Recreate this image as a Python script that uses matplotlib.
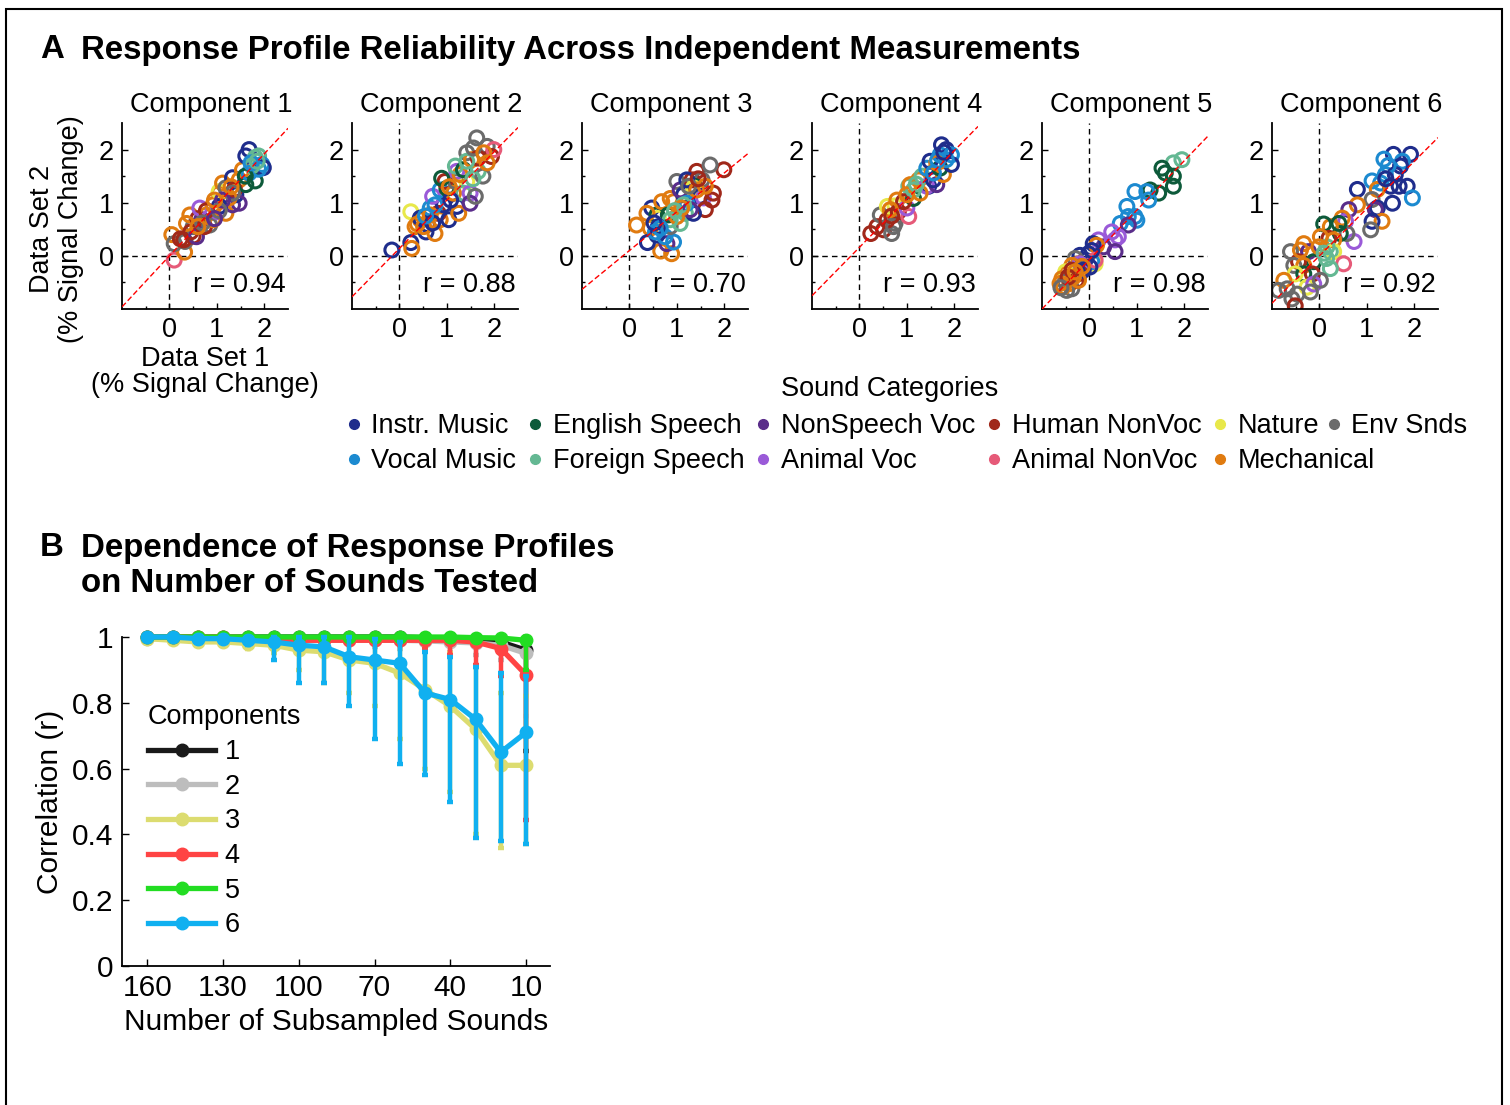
import matplotlib
matplotlib.use("Agg")
import matplotlib.pyplot as plt
from matplotlib.lines import Line2D
from matplotlib.patches import Rectangle
import numpy as np

plt.rcParams['font.family'] = ['Liberation Sans', 'DejaVu Sans']

W, H = 1510, 1105

# sound categories
cat_names = ['Instr. Music', 'Vocal Music', 'English Speech', 'Foreign Speech',
             'NonSpeech Voc', 'Animal Voc', 'Human NonVoc', 'Animal NonVoc',
             'Nature', 'Mechanical', 'Env Snds']
cat_colors = ['#1f2d8c', '#1c8ad0', '#0d5a3a', '#64b893', '#5a2d8a', '#9a5ad8',
              '#a0281a', '#e65a78', '#e8e84a', '#e07b10', '#6b6b6b']

# (category, data set 1, data set 2)
comp1_pts = [(7, 0.1, -0.08), (9, 0.05, 0.4), (9, 0.32, 0.07), (10, 0.1, 0.23), (10, 0.33, 0.27),
             (6, 0.3, 0.3), (6, 0.5, 0.37), (10, 0.5, 0.55), (9, 0.43, 0.77), (4, 0.57, 0.36),
             (4, 0.68, 0.68), (6, 0.6, 0.7), (9, 0.78, 0.77), (10, 0.85, 0.58), (5, 0.64, 0.9),
             (5, 1.02, 0.83), (9, 0.92, 0.96), (9, 1.19, 0.8), (6, 0.74, 0.55), (9, 1.05, 1.18),
             (8, 1.05, 1.21), (9, 1.12, 1.37), (10, 1.19, 1.28), (4, 1.33, 0.96), (0, 1.4, 1.15),
             (0, 1.33, 1.47), (9, 1.47, 1.43), (6, 1.37, 1.25), (2, 1.61, 1.34), (9, 1.54, 1.62),
             (1, 1.68, 1.56), (0, 1.61, 1.88), (0, 1.68, 2.0), (3, 1.81, 1.85), (3, 1.88, 1.88),
             (2, 1.81, 1.41), (1, 1.95, 1.72), (0, 1.98, 1.66), (3, 1.74, 1.69), (4, 1.47, 0.99),
             (9, 1.26, 1.09), (0, 1.05, 0.93), (10, 1.33, 1.18), (1, 1.88, 1.63), (9, 0.92, 0.68),
             (4, 1.12, 1.05), (6, 0.78, 0.85), (10, 1.05, 0.85), (9, 0.36, 0.61), (6, 0.23, 0.32),
             (2, 1.6, 1.5), (9, 0.95, 1.05), (6, 0.45, 0.45), (9, 1.3, 1.3), (10, 0.7, 0.62),
             (4, 0.95, 0.7), (9, 0.6, 0.55), (1, 1.72, 1.75), (3, 1.85, 1.78)]
comp2_pts = [(0, -0.16, 0.11), (0, 0.24, 0.25), (9, 0.26, 0.14), (8, 0.24, 0.83), (9, 0.33, 0.55),
             (9, 0.44, 0.68), (0, 0.44, 0.71), (0, 0.59, 0.59), (0, 0.56, 0.45), (1, 0.65, 0.9),
             (9, 0.75, 0.42), (9, 0.86, 0.68), (6, 0.82, 0.8), (0, 0.93, 0.96), (0, 1.04, 0.68),
             (0, 1.21, 0.93), (9, 1.25, 0.8), (5, 0.7, 1.12), (1, 0.86, 1.24), (2, 1.0, 1.27),
             (6, 0.96, 1.4), (9, 1.14, 1.18), (10, 1.18, 1.4), (8, 1.42, 1.4), (3, 1.35, 1.18),
             (5, 1.49, 1.18), (4, 1.49, 0.99), (10, 1.6, 1.12), (5, 1.21, 1.59), (9, 1.28, 1.53),
             (3, 1.18, 1.69), (2, 1.35, 1.62), (3, 1.66, 1.59), (10, 1.76, 1.5), (10, 1.42, 1.94),
             (9, 1.52, 1.81), (10, 1.63, 2.22), (10, 1.85, 2.06), (6, 1.66, 1.84), (6, 1.94, 1.87),
             (7, 1.99, 2.0), (9, 1.85, 1.75), (3, 1.42, 1.78), (10, 1.56, 2.03), (9, 0.65, 0.77),
             (1, 0.75, 0.96), (9, 0.51, 0.55), (0, 1.08, 1.05), (2, 0.89, 1.46), (9, 1.78, 1.94),
             (9, 0.38, 0.6), (0, 0.7, 0.62), (1, 0.55, 0.75), (9, 1.05, 1.3), (3, 1.55, 1.45)]
comp3_pts = [(9, 0.89, 0.04), (9, 0.66, 0.09), (9, 0.15, 0.58), (9, 0.44, 0.52), (0, 0.38, 0.25),
             (4, 0.79, 0.23), (0, 0.47, 0.9), (0, 0.58, 0.39), (1, 0.75, 0.36), (1, 0.93, 0.26),
             (8, 0.61, 0.71), (2, 0.58, 0.77), (9, 0.68, 1.02), (10, 0.86, 0.55), (2, 0.82, 0.77),
             (9, 0.86, 1.08), (3, 1.07, 0.61), (9, 0.93, 1.02), (3, 1.18, 0.8), (9, 1.0, 0.74),
             (10, 1.0, 1.4), (0, 1.14, 1.15), (4, 1.07, 1.24), (6, 1.32, 1.43), (6, 1.42, 1.59),
             (10, 1.53, 1.43), (2, 1.37, 1.31), (8, 1.35, 1.28), (0, 1.49, 1.12), (5, 1.56, 1.09),
             (6, 1.6, 0.87), (6, 1.77, 1.18), (6, 1.74, 1.05), (6, 1.99, 1.62), (10, 1.7, 1.71),
             (9, 1.6, 1.31), (0, 1.35, 0.8), (1, 1.21, 0.99), (3, 0.86, 0.68), (4, 1.28, 0.87),
             (0, 0.61, 0.55), (9, 0.37, 0.8), (1, 0.65, 0.52), (0, 1.21, 1.43), (3, 1.14, 0.96),
             (9, 1.42, 1.24), (10, 1.25, 1.31), (1, 0.55, 0.45), (0, 0.52, 0.62), (9, 1.1, 0.9),
             (3, 0.95, 0.85), (6, 1.45, 1.45)]
comp4_pts = [(6, 0.24, 0.42), (6, 0.37, 0.55), (6, 0.51, 0.49), (10, 0.68, 0.42), (10, 0.75, 0.61),
             (10, 0.44, 0.77), (6, 0.58, 0.67), (8, 0.59, 0.93), (8, 0.75, 0.94), (9, 0.79, 1.05),
             (6, 0.82, 0.83), (7, 1.04, 0.74), (5, 1.0, 0.9), (2, 1.14, 1.08), (3, 1.04, 1.31),
             (9, 1.07, 1.34), (6, 0.93, 1.02), (9, 1.25, 1.43), (3, 1.32, 1.5), (9, 1.53, 1.56),
             (1, 1.42, 1.65), (0, 1.46, 1.31), (5, 1.42, 1.31), (4, 1.63, 1.34), (0, 1.56, 1.43),
             (9, 1.77, 1.53), (2, 1.7, 1.65), (0, 1.49, 1.78), (1, 1.7, 1.9), (0, 1.73, 2.09),
             (0, 1.83, 2.0), (1, 1.94, 1.9), (0, 1.94, 1.72), (1, 1.83, 1.81), (9, 1.63, 1.75),
             (10, 0.72, 0.55), (9, 0.65, 0.87), (3, 1.14, 1.24), (9, 1.28, 1.18), (1, 1.56, 1.56),
             (9, 1.0, 1.15), (6, 0.68, 0.75), (3, 1.2, 1.35), (1, 1.65, 1.8), (0, 1.78, 1.95)]
comp5_pts = [(3, 1.95, 1.81), (3, 1.77, 1.75), (2, 1.53, 1.65), (2, 1.6, 1.56), (2, 1.77, 1.5),
             (2, 1.77, 1.31), (2, 1.46, 1.18), (2, 1.28, 1.24), (1, 1.21, 1.21), (1, 1.25, 1.05),
             (1, 0.96, 1.21), (1, 0.79, 0.93), (1, 0.82, 0.74), (1, 0.65, 0.61), (1, 1.0, 0.67),
             (1, 0.96, 0.74), (4, 0.82, 0.58), (5, 0.47, 0.45), (5, 0.61, 0.36), (5, 0.54, 0.3),
             (4, 0.54, 0.08), (4, 0.3, 0.17), (5, 0.19, 0.3), (0, 0.08, 0.23), (9, 0.15, 0.2),
             (0, -0.02, 0.04), (0, -0.09, -0.08), (8, 0.12, -0.15), (1, 0.05, -0.11), (0, -0.2, 0.01),
             (10, -0.3, -0.05), (9, -0.23, -0.15), (5, -0.2, -0.15), (9, -0.37, -0.18), (6, -0.2, -0.33),
             (9, -0.48, -0.33), (8, -0.5, -0.3), (9, -0.58, -0.43), (10, -0.51, -0.49), (9, -0.41, -0.52),
             (10, -0.37, -0.62), (9, -0.62, -0.52), (6, -0.27, -0.46), (0, -0.13, -0.27), (9, -0.34, -0.4),
             (10, -0.48, -0.65), (9, -0.23, -0.46), (6, -0.37, -0.27), (7, 0.12, -0.08), (0, 0.01, -0.21),
             (9, -0.55, -0.58), (6, -0.45, -0.4), (9, -0.3, -0.3), (10, -0.6, -0.6), (9, -0.15, -0.2),
             (0, 0.05, 0.1)]
comp6_pts = [(0, 1.56, 1.91), (0, 1.92, 1.91), (1, 1.36, 1.82), (1, 1.75, 1.78), (0, 1.71, 1.69),
             (1, 1.39, 1.53), (0, 1.6, 1.53), (1, 1.11, 1.41), (1, 1.29, 1.37), (0, 1.5, 1.31),
             (0, 1.68, 1.31), (0, 1.85, 1.31), (1, 1.96, 1.09), (0, 1.54, 0.99), (0, 0.8, 1.25),
             (9, 1.22, 1.25), (10, 1.11, 1.06), (0, 1.22, 0.9), (4, 1.18, 0.87), (9, 1.32, 0.65),
             (0, 1.11, 0.65), (10, 1.08, 0.49), (9, 0.8, 0.96), (4, 0.62, 0.87), (5, 0.55, 0.65),
             (9, 0.48, 0.71), (5, 0.73, 0.27), (10, 0.58, 0.42), (2, 0.44, 0.42), (9, 0.23, 0.55),
             (2, 0.09, 0.6), (6, 0.2, 0.33), (9, 0.3, 0.3), (9, -0.33, 0.23), (10, -0.61, 0.08),
             (4, -0.23, 0.08), (3, 0.23, 0.08), (8, 0.3, 0.08), (3, 0.16, 0.17), (2, -0.12, -0.11),
             (6, -0.44, -0.11), (10, -0.54, -0.18), (9, -0.33, -0.18), (7, 0.51, -0.15), (3, 0.23, -0.24),
             (2, -0.33, -0.34), (6, -0.15, -0.34), (8, -0.51, -0.34), (9, -0.75, -0.46), (8, -0.26, -0.59),
             (5, -0.12, -0.53), (10, -0.86, -0.65), (10, -0.68, -0.62), (10, -0.47, -0.72), (10, -0.58, -0.81),
             (6, -0.51, -0.94), (10, -0.19, -0.68), (10, 0.02, -0.46), (9, -0.01, 0.17), (9, -0.4, 0.11),
             (2, 0.41, 0.61), (9, 0.02, 0.36), (3, 0.1, 0.05), (3, 0.15, -0.05), (1, 1.45, 1.7),
             (0, 1.4, 1.45)]
comp_pts = [comp1_pts, comp2_pts, comp3_pts, comp4_pts, comp5_pts, comp6_pts]
comp_r = ['0.94', '0.88', '0.70', '0.93', '0.98', '0.92']
fit_slope = [0.96, 0.91, 0.73, 0.91, 0.93, 0.89]
fit_icpt = [0.0, 0.14, 0.10, 0.16, -0.07, 0.0]

# panel B: subsampling
n_sounds = [160, 150, 140, 130, 120, 110, 100, 90, 80, 70, 60, 50, 40, 30, 20, 10]
r_mean = {
    1: [1.0, 1.0, 1.0, 1.0, 1.0, 1.0, 1.0, 1.0, 1.0, 1.0, 1.0, 0.998, 0.997, 0.995, 0.985, 0.96],
    2: [0.995, 0.995, 0.995, 0.993, 0.992, 0.99, 0.99, 0.99, 0.99, 0.99, 0.99, 0.988, 0.985, 0.982, 0.975, 0.95],
    3: [0.995, 0.99, 0.985, 0.985, 0.98, 0.975, 0.96, 0.955, 0.93, 0.92, 0.89, 0.84, 0.79, 0.72, 0.61, 0.61],
    4: [1.0, 1.0, 1.0, 1.0, 0.998, 0.995, 0.99, 0.99, 0.99, 0.99, 0.99, 0.99, 0.99, 0.985, 0.965, 0.885],
    5: [1.0, 1.0, 1.0, 1.0, 1.0, 1.0, 1.0, 1.0, 1.0, 1.0, 1.0, 1.0, 1.0, 0.998, 0.997, 0.99],
    6: [1.0, 1.0, 0.995, 0.995, 0.99, 0.985, 0.975, 0.97, 0.94, 0.93, 0.92, 0.83, 0.81, 0.75, 0.65, 0.71],
}
r_low = {
    1: [1.0, 1.0, 1.0, 1.0, 0.998, 0.997, 0.996, 0.995, 0.993, 0.99, 0.99, 0.985, 0.98, 0.97, 0.95, 0.655],
    2: [0.99, 0.99, 0.99, 0.988, 0.985, 0.982, 0.98, 0.978, 0.975, 0.97, 0.965, 0.96, 0.955, 0.945, 0.93, 0.76],
    3: [0.99, 0.985, 0.975, 0.975, 0.965, 0.95, 0.90, 0.86, 0.83, 0.79, 0.69, 0.60, 0.53, 0.40, 0.36, 0.37],
    4: [1.0, 1.0, 1.0, 0.998, 0.995, 0.99, 0.985, 0.983, 0.98, 0.978, 0.975, 0.965, 0.945, 0.915, 0.88, 0.445],
    5: [1.0, 1.0, 1.0, 1.0, 1.0, 1.0, 1.0, 0.999, 0.998, 0.997, 0.996, 0.995, 0.993, 0.99, 0.985, 0.90],
    6: [1.0, 0.995, 0.99, 0.99, 0.975, 0.93, 0.86, 0.86, 0.79, 0.69, 0.615, 0.58, 0.50, 0.39, 0.38, 0.37],
}
r_high = {
    1: [1.0] * 16,
    2: [1.0] * 14 + [0.995, 0.99],
    3: [1.0] * 11 + [0.98, 0.95, 0.91, 0.83, 0.82],
    4: [1.0] * 16,
    5: [1.0] * 16,
    6: [1.0] * 9 + [0.995, 0.985, 0.955, 0.94, 0.91, 0.89, 0.88],
}
line_colors = {1: '#1a1a1a', 2: '#bdbdbd', 3: '#dcdc70', 4: '#ff4444', 5: '#22dd22', 6: '#10b0f0'}

FS_A = 19.5
FS_B = 21.5
FS_T = 23.8


def px_box(left, top, w, h):
    return [left / W, 1 - (top + h) / H, w / W, h / H]


fig = plt.figure(figsize=(W / 100, H / 100), dpi=100)
fig.patches.append(Rectangle((6 / W, -0.01), 1496 / W, 1 - 9 / H + 0.01, transform=fig.transFigure,
                             fill=False, edgecolor='black', linewidth=1.5))

# panel A titles
fig.text(40 / W, 1 - 50 / H, 'A', fontsize=FS_T, fontweight='bold', va='center')
fig.text(81 / W, 1 - 50 / H, 'Response Profile Reliability Across Independent Measurements',
         fontsize=FS_T, fontweight='bold', va='center')

lefts = [122, 352, 582, 812, 1042, 1272]
for k in range(6):
    ax = fig.add_axes(px_box(lefts[k], 123, 166, 186))
    pts = comp_pts[k]
    xs = [p[1] for p in pts]
    ys = [p[2] for p in pts]
    cs = [cat_colors[p[0]] for p in pts]
    ax.axhline(0, color='black', lw=1.0, dashes=(4, 3), zorder=1)
    ax.axvline(0, color='black', lw=1.0, dashes=(4, 3), zorder=1)
    ax.scatter(xs, ys, s=100, facecolors='none', edgecolors=cs, linewidths=2.2, zorder=2)
    xx = np.array([-1.0, 2.5])
    ax.plot(xx, fit_slope[k] * xx + fit_icpt[k], color='red', lw=1.0, dashes=(4, 2), zorder=3)
    ax.set_xlim(-1, 2.5)
    ax.set_ylim(-1, 2.5)
    ax.set_xticks([0, 1, 2])
    ax.set_yticks([0, 1, 2])
    ax.set_yticks([-0.5, 0.5, 1.5], minor=True)
    ax.set_xticks([-0.5, 0.5, 1.5], minor=True)
    for s in ['top', 'right']:
        ax.spines[s].set_visible(False)
    for s in ['left', 'bottom']:
        ax.spines[s].set_linewidth(1.3)
    ax.tick_params(which='both', direction='in', labelsize=FS_A, width=1.0)
    ax.tick_params(which='major', length=4, pad=6)
    ax.tick_params(which='minor', length=2.5)
    ax.text(2.45, -0.55, 'r = ' + comp_r[k], fontsize=FS_A, ha='right', va='center')
    ax.set_title('Component %d' % (k + 1), fontsize=FS_A, pad=8, x=0.536)
    if k == 0:
        ax.set_ylabel('Data Set 2\n(% Signal Change)', fontsize=FS_A, linespacing=1.15)
        ax.yaxis.set_label_coords(-0.23, 0.43)
        ax.set_xlabel('Data Set 1\n(% Signal Change)', fontsize=FS_A, labelpad=2, linespacing=1.0)

# category legend: five paired columns, Env Snds set on its own as in the source
cat_handles = [Line2D([], [], ls='none', marker='o', markersize=7, color=c) for c in cat_colors]
fig.text(890 / W, 1 - 389 / H, 'Sound Categories', fontsize=FS_A, ha='center', va='center')
leg_kw = dict(frameon=False, fontsize=FS_A, handlelength=0.5, handletextpad=0.4,
              columnspacing=0.45, labelspacing=0.35, borderpad=0, borderaxespad=0)
fig.legend(cat_handles[:10], cat_names[:10], ncol=5, loc='upper left',
           bbox_to_anchor=(347 / W, 1 - 413 / H), **leg_kw)
fig.legend(cat_handles[10:], cat_names[10:], ncol=1, loc='upper left',
           bbox_to_anchor=(1327 / W, 1 - 413 / H), **leg_kw)

# panel B titles
fig.text(40 / W, 1 - 548 / H, 'B', fontsize=FS_T, fontweight='bold', va='center')
fig.text(81 / W, 1 - 566 / H, 'Dependence of Response Profiles\non Number of Sounds Tested',
         fontsize=FS_T, fontweight='bold', va='center', linespacing=1.2)

axb = fig.add_axes(px_box(122, 637, 428, 329))
handles = []
for c in range(1, 7):
    m = np.array(r_mean[c])
    lo = np.array(r_low[c])
    hi = np.array(r_high[c])
    axb.errorbar(n_sounds, m, yerr=[m - lo, hi - m], fmt='none', ecolor=line_colors[c],
                 elinewidth=3.2, capsize=2.2, capthick=3.2, clip_on=False, zorder=2 + c)
    h, = axb.plot(n_sounds, m, color=line_colors[c], lw=3.8, marker='o', markersize=9,
                  clip_on=False, zorder=2 + c, label=str(c))
    handles.append(h)
axb.set_xlim(170, 0.5)
axb.set_ylim(0, 1.0)
axb.set_xticks([160, 130, 100, 70, 40, 10])
axb.set_yticks([0, 0.2, 0.4, 0.6, 0.8, 1.0])
axb.set_yticklabels(['0', '0.2', '0.4', '0.6', '0.8', '1'])
for s in ['top', 'right']:
    axb.spines[s].set_visible(False)
for s in ['left', 'bottom']:
    axb.spines[s].set_linewidth(1.3)
axb.tick_params(direction='in', length=5, width=1.0, labelsize=FS_B, pad=6)
axb.set_xlabel('Number of Subsampled Sounds', fontsize=FS_B, labelpad=4)
axb.set_ylabel('Correlation (r)', fontsize=FS_B, labelpad=6)
axb.legend(handles=handles, loc='upper left', bbox_to_anchor=(0.06, 0.795), frameon=False,
           fontsize=FS_A, title='Components', title_fontsize=FS_A, alignment='left',
           handlelength=2.5, handletextpad=0.35, labelspacing=0.32, borderpad=0,
           borderaxespad=0)

fig.savefig('out.png', dpi=100)
